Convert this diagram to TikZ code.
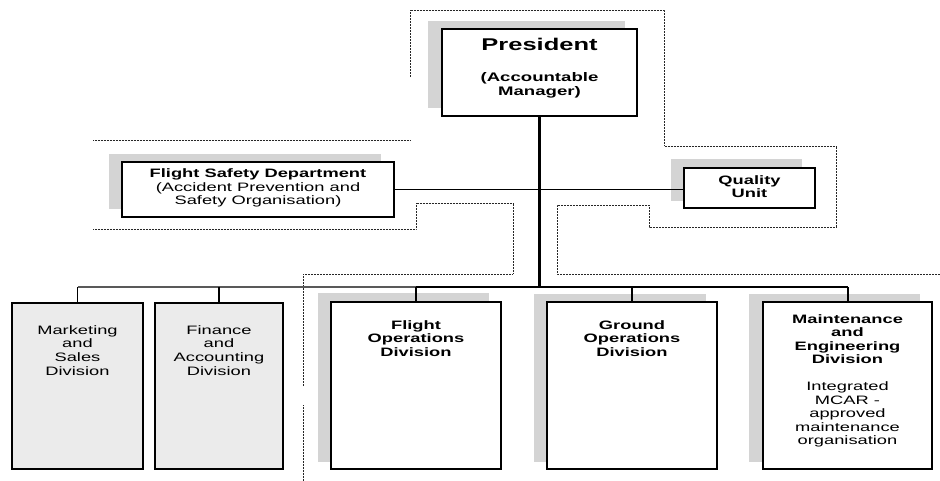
\documentclass[tikz,border=0pt]{standalone}
\usepackage{fontspec}
\setmainfont{Liberation Sans}[FakeStretch=1.5]
\begin{document}
\begin{tikzpicture}[x=1pt,y=-1pt,
  shadowbox/.style={fill=black!17},
  orgbox/.style={draw, line width=1.7pt, fill=white, inner sep=0pt, outer sep=0pt},
  greybox/.style={draw, line width=1.3pt, fill=black!8, inner sep=0pt, outer sep=0pt},
  dotline/.style={line width=0.8pt, black!85, dash pattern=on 0.8pt off 0.7pt},
  link/.style={line width=1.6pt},
  trunkline/.style={line width=3pt},
  buslight/.style={line width=1.3pt, black!65},
  busdark/.style={line width=2pt},
  txt/.style={align=center, inner sep=0pt, font=\fontsize{12.2}{13.8}\selectfont},
  bigtxt/.style={align=center, inner sep=0pt, font=\fontsize{17}{19}\selectfont\bfseries}]
\useasboundingbox (0,0) rectangle (940,481);

% dotted frames
\draw[dotline] (410,77) -- (410,10) -- (664,10) -- (664,146) -- (836,146) -- (836,227)
  -- (649,227) -- (649,205) -- (557,205) -- (557,274) -- (940,274);
\draw[dotline] (93,140) -- (410,140);
\draw[dotline] (93,229) -- (416,229) -- (416,203) -- (513,203) -- (513,274) -- (303,274) -- (303,386);
\draw[dotline] (303,405) -- (303,481);

% shadows
\fill[shadowbox] (428,21) rectangle (625,108);
\fill[shadowbox] (109,154) rectangle (381,209);
\fill[shadowbox] (671,159) rectangle (802,201);
\fill[shadowbox] (318,293) rectangle (489,462);
\fill[shadowbox] (534,294) rectangle (706,462);
\fill[shadowbox] (749,294) rectangle (920,462);

% boxes
\node[orgbox, minimum width=195pt, minimum height=87pt] (pres) at (539.5,72.5) {};
\node[orgbox, minimum width=272pt, minimum height=55pt] (fs) at (258,189.5) {};
\node[orgbox, minimum width=131pt, minimum height=40pt] (qu) at (749.5,188) {};
\node[greybox, minimum width=131pt, minimum height=166pt] (mk) at (77.5,386) {};
\node[greybox, minimum width=128pt, minimum height=166pt] (fa) at (219,386) {};
\node[orgbox, minimum width=170pt, minimum height=167pt] (fo) at (416,385.5) {};
\node[orgbox, minimum width=170pt, minimum height=167pt] (go) at (632,385.5) {};
\node[orgbox, minimum width=169pt, minimum height=167pt] (ma) at (847.5,385.5) {};

% texts
\node[bigtxt] (prest) at (539.5,44) {President};
\node[txt, font=\fontsize{12.4}{14}\selectfont\bfseries] (presa) at (539.5,85) {(Accountable\\Manager)};
\node[txt] (fst) at (258,188) {\textbf{Flight Safety Department}\\(Accident Prevention and\\Safety Organisation)};
\node[txt, font=\fontsize{12.2}{13.2}\selectfont\bfseries] (qut) at (749.5,186.5) {Quality\\Unit};
\node[txt] (mkt) at (77.5,350.5) {Marketing\\and\\Sales\\Division};
\node[txt] (fat) at (219,350.5) {Finance\\and\\Accounting\\Division};
\node[txt, font=\fontsize{12.2}{13.8}\selectfont\bfseries] (fot) at (416,338.5) {Flight\\Operations\\Division};
\node[txt, font=\fontsize{12.2}{13.8}\selectfont\bfseries] (got) at (632,338.5) {Ground\\Operations\\Division};
\node[txt, font=\fontsize{12.2}{13.5}\selectfont] (mat) at (847.5,381) {\textbf{Maintenance}\\\textbf{and}\\\textbf{Engineering}\\\textbf{Division}\\[13.5pt]Integrated\\MCAR -\\approved\\maintenance\\organisation};

% connectors
\coordinate (bus) at (539.5,287);
\draw[link] (fs.east) -- (qu.west |- fs.east);
\draw[trunkline] (pres.south) -- (bus);
\draw[buslight] (mk.north |- bus) -- (fo.north |- bus);
\draw[busdark] (fo.north |- bus) -- (ma.north |- bus);
\draw[buslight, black] (mk.north |- bus) -- (mk.north);
\draw[buslight, black] (fa.north |- bus) -- (fa.north);
\draw[busdark] (fo.north |- bus) -- (fo.north);
\draw[busdark] (go.north |- bus) -- (go.north);
\draw[busdark] (ma.north |- bus) -- (ma.north);
\end{tikzpicture}
\end{document}
